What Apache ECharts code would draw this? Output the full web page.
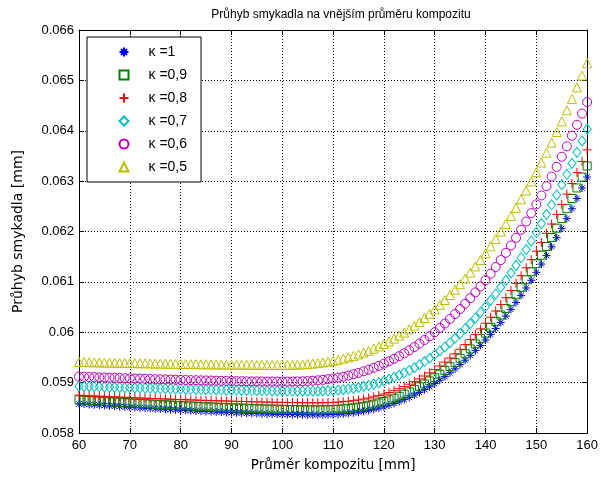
<!DOCTYPE html>
<html>
<head>
<meta charset="utf-8">
<script src="https://cdn.jsdelivr.net/npm/echarts@6/dist/echarts.min.js"></script>
<style>
html,body{margin:0;padding:0;background:#fff;}
#chart{width:601px;height:481px;}
</style>
</head>
<body>
<div id="chart"></div>
<script>
// x values: outer diameter of the composite [mm]
const diameters = [60,61,62,63,64,65,66,67,68,69,70,71,72,73,74,75,76,77,78,79,80,81,82,83,84,85,86,87,88,89,90,91,92,93,94,95,96,97,98,99,100,101,102,103,104,105,106,107,108,109,110,111,112,113,114,115,116,117,118,119,120,121,122,123,124,125,126,127,128,129,130,131,132,133,134,135,136,137,138,139,140,141,142,143,144,145,146,147,148,149,150,151,152,153,154,155,156,157,158,159,160];

const kappa10 = [0.058580,0.058573,0.058566,0.058559,0.058552,0.058545,0.058538,0.058532,0.058525,0.058519,0.058512,0.058506,0.058500,0.058494,0.058488,0.058482,0.058476,0.058470,0.058464,0.058459,0.058453,0.058448,0.058443,0.058438,0.058433,0.058428,0.058423,0.058418,0.058414,0.058409,0.058405,0.058401,0.058397,0.058393,0.058389,0.058386,0.058382,0.058379,0.058376,0.058373,0.058370,0.058368,0.058366,0.058364,0.058362,0.058361,0.058360,0.058360,0.058361,0.058363,0.058367,0.058372,0.058379,0.058389,0.058400,0.058414,0.058430,0.058448,0.058470,0.058494,0.058522,0.058552,0.058586,0.058623,0.058663,0.058707,0.058754,0.058805,0.058860,0.058919,0.058982,0.059048,0.059119,0.059195,0.059274,0.059358,0.059446,0.059539,0.059636,0.059738,0.059845,0.059957,0.060073,0.060195,0.060321,0.060453,0.060589,0.060731,0.060879,0.061031,0.061189,0.061353,0.061522,0.061696,0.061877,0.062063,0.062254,0.062452,0.062656,0.062865,0.063081];

const kappa09 = [0.058660,0.058654,0.058647,0.058641,0.058634,0.058628,0.058622,0.058616,0.058610,0.058604,0.058598,0.058593,0.058587,0.058582,0.058576,0.058571,0.058565,0.058560,0.058555,0.058550,0.058545,0.058540,0.058535,0.058531,0.058526,0.058522,0.058517,0.058513,0.058509,0.058505,0.058501,0.058497,0.058494,0.058490,0.058487,0.058483,0.058480,0.058477,0.058475,0.058472,0.058469,0.058467,0.058465,0.058463,0.058462,0.058461,0.058460,0.058460,0.058461,0.058464,0.058467,0.058473,0.058480,0.058489,0.058501,0.058515,0.058531,0.058551,0.058573,0.058598,0.058626,0.058657,0.058691,0.058729,0.058771,0.058816,0.058864,0.058917,0.058973,0.059033,0.059097,0.059166,0.059239,0.059316,0.059397,0.059483,0.059574,0.059669,0.059769,0.059873,0.059983,0.060097,0.060217,0.060341,0.060471,0.060606,0.060746,0.060892,0.061043,0.061199,0.061361,0.061529,0.061702,0.061881,0.062066,0.062257,0.062453,0.062656,0.062865,0.063080,0.063301];

const kappa08 = [0.058750,0.058745,0.058740,0.058736,0.058731,0.058726,0.058722,0.058717,0.058713,0.058708,0.058704,0.058700,0.058695,0.058691,0.058687,0.058683,0.058679,0.058675,0.058671,0.058667,0.058664,0.058660,0.058657,0.058653,0.058650,0.058646,0.058643,0.058640,0.058637,0.058634,0.058631,0.058628,0.058625,0.058623,0.058620,0.058618,0.058615,0.058613,0.058611,0.058609,0.058607,0.058605,0.058604,0.058603,0.058601,0.058600,0.058600,0.058600,0.058601,0.058604,0.058607,0.058613,0.058621,0.058630,0.058642,0.058657,0.058674,0.058694,0.058717,0.058743,0.058772,0.058804,0.058840,0.058879,0.058922,0.058969,0.059019,0.059074,0.059132,0.059194,0.059261,0.059332,0.059408,0.059488,0.059572,0.059661,0.059755,0.059854,0.059957,0.060066,0.060179,0.060298,0.060422,0.060551,0.060686,0.060826,0.060971,0.061122,0.061279,0.061441,0.061609,0.061783,0.061963,0.062148,0.062340,0.062538,0.062742,0.062952,0.063169,0.063391,0.063621];

const kappa07 = [0.058930,0.058927,0.058923,0.058920,0.058917,0.058914,0.058911,0.058908,0.058905,0.058902,0.058899,0.058896,0.058893,0.058890,0.058887,0.058884,0.058882,0.058879,0.058876,0.058874,0.058871,0.058869,0.058867,0.058864,0.058862,0.058860,0.058857,0.058855,0.058853,0.058851,0.058849,0.058847,0.058846,0.058844,0.058842,0.058840,0.058839,0.058838,0.058836,0.058835,0.058834,0.058833,0.058832,0.058831,0.058830,0.058830,0.058830,0.058831,0.058834,0.058837,0.058843,0.058850,0.058860,0.058872,0.058886,0.058903,0.058923,0.058946,0.058971,0.059000,0.059032,0.059067,0.059106,0.059149,0.059195,0.059245,0.059298,0.059356,0.059418,0.059484,0.059554,0.059629,0.059708,0.059792,0.059880,0.059973,0.060070,0.060173,0.060280,0.060393,0.060510,0.060633,0.060760,0.060893,0.061032,0.061176,0.061325,0.061480,0.061641,0.061807,0.061979,0.062157,0.062340,0.062530,0.062726,0.062928,0.063136,0.063350,0.063570,0.063797,0.064030];

const kappa06 = [0.059120,0.059116,0.059113,0.059109,0.059105,0.059102,0.059098,0.059095,0.059092,0.059088,0.059085,0.059082,0.059079,0.059075,0.059072,0.059069,0.059066,0.059064,0.059061,0.059058,0.059055,0.059053,0.059050,0.059048,0.059045,0.059043,0.059041,0.059039,0.059036,0.059034,0.059033,0.059031,0.059029,0.059027,0.059026,0.059024,0.059023,0.059022,0.059021,0.059020,0.059020,0.059020,0.059021,0.059023,0.059026,0.059031,0.059038,0.059046,0.059056,0.059068,0.059083,0.059100,0.059119,0.059141,0.059166,0.059193,0.059224,0.059257,0.059294,0.059333,0.059376,0.059422,0.059472,0.059525,0.059582,0.059642,0.059706,0.059774,0.059846,0.059921,0.060001,0.060085,0.060173,0.060265,0.060361,0.060462,0.060567,0.060677,0.060791,0.060910,0.061034,0.061162,0.061295,0.061433,0.061576,0.061723,0.061876,0.062034,0.062197,0.062365,0.062538,0.062716,0.062900,0.063090,0.063284,0.063484,0.063690,0.063901,0.064118,0.064341,0.064569];

const kappa05 = [0.059410,0.059408,0.059405,0.059403,0.059401,0.059399,0.059397,0.059395,0.059393,0.059390,0.059388,0.059386,0.059385,0.059383,0.059381,0.059379,0.059377,0.059375,0.059374,0.059372,0.059370,0.059369,0.059367,0.059366,0.059364,0.059363,0.059362,0.059360,0.059359,0.059358,0.059357,0.059356,0.059355,0.059354,0.059353,0.059352,0.059351,0.059351,0.059350,0.059350,0.059350,0.059351,0.059353,0.059357,0.059362,0.059368,0.059377,0.059387,0.059400,0.059415,0.059433,0.059453,0.059476,0.059501,0.059530,0.059561,0.059596,0.059633,0.059674,0.059719,0.059767,0.059818,0.059873,0.059932,0.059994,0.060060,0.060131,0.060205,0.060283,0.060366,0.060453,0.060544,0.060639,0.060739,0.060844,0.060953,0.061066,0.061185,0.061308,0.061436,0.061568,0.061706,0.061849,0.061997,0.062150,0.062308,0.062471,0.062640,0.062814,0.062993,0.063178,0.063369,0.063565,0.063766,0.063974,0.064187,0.064406,0.064630,0.064861,0.065097,0.065340];

const seriesNames = ['κ =1','κ =0,9','κ =0,8','κ =0,7','κ =0,6','κ =0,5'];
const seriesValues = [kappa10, kappa09, kappa08, kappa07, kappa06, kappa05];
const xTicks = [60,70,80,90,100,110,120,130,140,150,160];
const yTicks = [0.058,0.059,0.060,0.061,0.062,0.063,0.064,0.065,0.066];

const colors = ['#0000ff','#008000','#ff0000','#00bfbf','#bf00bf','#bfbf00'];
const symbols = [
  'path://M5,0L5,10M0,5L10,5M1.6,1.6L8.4,8.4M8.4,1.6L1.6,8.4',
  'rect',
  'path://M5,0L5,10M0,5L10,5',
  'diamond',
  'circle',
  'triangle'
];
const sizes = [8, 8, 9, [8,10], 9, 9];

const FONT = '"Liberation Sans", Arial, sans-serif';
const LABEL_FONT = '"DejaVu Sans", "Liberation Sans", sans-serif';

const chart = echarts.init(document.getElementById('chart'), null, {renderer:'canvas'});

const series = seriesNames.map((name, i) => ({
  name: name,
  type: 'scatter',
  symbol: symbols[i],
  symbolSize: sizes[i],
  data: diameters.map((x, j) => [x, seriesValues[i][j]]),
  itemStyle: { color: 'none', borderColor: colors[i], borderWidth: 1, opacity: 1 },
  emphasis: { disabled: true },
  xAxisIndex: 0,
  yAxisIndex: 0
}));

const fmtY = v => parseFloat(Number(v).toFixed(3)).toString();

const option = {
  animation: false,
  backgroundColor: '#fff',
  title: {
    text: 'Průhyb smykadla na vnějším průměru kompozitu',
    left: 336, top: 4, textAlign: 'center',
    textStyle: { fontFamily: FONT, fontSize: 12, fontWeight: 'normal', color: '#000' }
  },
  grid: { left: 79, right: 10, top: 30, bottom: 48, containLabel: false },
  legend: {
    left: 87, top: 37, orient: 'vertical',
    backgroundColor: '#fff', borderColor: '#000', borderWidth: 1, borderRadius: 0,
    padding: [8, 14, 8, 30],
    itemWidth: 9, itemHeight: 9, itemGap: 9,
    textStyle: { fontFamily: FONT, fontSize: 14, color: '#000', padding: [0,0,0,15] },
    data: seriesNames,
    selectedMode: false
  },
  xAxis: [{
    type: 'value', min: 60, max: 160, interval: 10,
    name: 'Průměr kompozitu [mm]', nameLocation: 'middle', nameGap: 25,
    nameTextStyle: { fontFamily: LABEL_FONT, fontSize: 13.5, color: '#000' },
    axisLine: { show: true, onZero: false, lineStyle: { color: '#000', width: 1 } },
    axisTick: { show: true, inside: true, length: 5, lineStyle: { color: '#000' } },
    axisLabel: { fontFamily: FONT, fontSize: 13, color: '#000', margin: 6,
      formatter: v => (xTicks.indexOf(v) >= 0 ? String(v) : '') },
    splitLine: { show: true, lineStyle: { color: '#000', type: [1, 2], width: 1 } }
  }, {
    type: 'value', min: 60, max: 160, interval: 10, position: 'top',
    axisLine: { show: true, onZero: false, lineStyle: { color: '#000', width: 1 } },
    axisTick: { show: true, inside: true, length: 5, lineStyle: { color: '#000' } },
    axisLabel: { show: false }, splitLine: { show: false }
  }],
  yAxis: [{
    type: 'value', min: 0.058, max: 0.066, interval: 0.001,
    name: 'Průhyb smykadla [mm]', nameLocation: 'middle', nameGap: 54,
    nameTextStyle: { fontFamily: LABEL_FONT, fontSize: 14, color: '#000' },
    axisLine: { show: true, onZero: false, lineStyle: { color: '#000', width: 1 } },
    axisTick: { show: true, inside: true, length: 5, lineStyle: { color: '#000' } },
    axisLabel: { fontFamily: FONT, fontSize: 13, color: '#000', margin: 5, formatter: fmtY },
    splitLine: { show: true, lineStyle: { color: '#000', type: [1, 2], width: 1 } }
  }, {
    type: 'value', min: 0.058, max: 0.066, interval: 0.001, position: 'right',
    axisLine: { show: true, onZero: false, lineStyle: { color: '#000', width: 1 } },
    axisTick: { show: true, inside: true, length: 5, lineStyle: { color: '#000' } },
    axisLabel: { show: false }, splitLine: { show: false }
  }],
  series: series
};

chart.setOption(option);
</script>
</body>
</html>
